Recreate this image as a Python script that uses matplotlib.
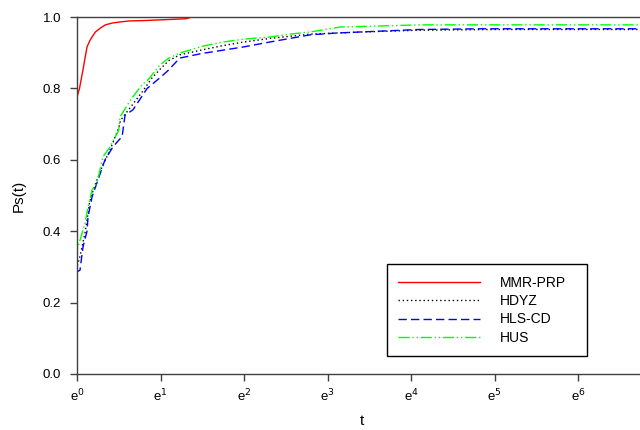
import matplotlib
matplotlib.use("Agg")
import matplotlib.pyplot as plt

plt.rcParams['font.family'] = ['Liberation Sans', 'DejaVu Sans']

# x values are ln(t); y values are Ps(t)
mmr_x = [0.0, 0.0, 0.03, 0.07, 0.10, 0.12, 0.15, 0.18, 0.22, 0.28, 0.34, 0.42, 0.51, 0.63, 0.8, 1.0, 1.2, 1.3, 1.38, 6.74]
mmr_y = [0.0, 0.776, 0.80, 0.85, 0.89, 0.916, 0.932, 0.944, 0.958, 0.969, 0.978, 0.983, 0.986, 0.989, 0.990, 0.992, 0.994, 0.995, 1.0, 1.0]

hdyz_x = [0.0, 0.0, 0.036, 0.1, 0.15, 0.2, 0.3, 0.4, 0.5, 0.52, 0.65, 0.78, 0.9, 1.0, 1.1, 1.23, 1.5, 1.75, 2.0, 2.31, 2.55, 2.8, 3.1, 3.4, 4.1, 5.0, 6.74]
hdyz_y = [0.0, 0.30, 0.33, 0.40, 0.48, 0.52, 0.58, 0.63, 0.69, 0.71, 0.75, 0.79, 0.83, 0.855, 0.878, 0.894, 0.908, 0.92, 0.93, 0.94, 0.946, 0.952, 0.955, 0.958, 0.963, 0.965, 0.965]

hls_x = [0.0, 0.0, 0.036, 0.072, 0.12, 0.132, 0.18, 0.25, 0.335, 0.43, 0.50, 0.54, 0.575, 0.67, 0.84, 0.994, 1.09, 1.23, 1.5, 1.99, 2.31, 2.55, 2.79, 3.1, 3.39, 4.1, 4.83, 6.74]
hls_y = [0.0, 0.286, 0.291, 0.356, 0.40, 0.44, 0.496, 0.543, 0.60, 0.636, 0.655, 0.665, 0.725, 0.74, 0.80, 0.83, 0.85, 0.885, 0.898, 0.916, 0.93, 0.94, 0.95, 0.955, 0.958, 0.965, 0.967, 0.967]

hus_x = [0.0, 0.0, 0.036, 0.096, 0.132, 0.18, 0.24, 0.31, 0.395, 0.50, 0.515, 0.647, 0.778, 0.85, 0.994, 1.1, 1.23, 1.5, 1.75, 2.0, 2.31, 2.55, 2.79, 3.0, 3.15, 3.5, 4.1, 6.74]
hus_y = [0.0, 0.347, 0.375, 0.423, 0.468, 0.515, 0.535, 0.608, 0.636, 0.683, 0.72, 0.77, 0.81, 0.824, 0.866, 0.885, 0.899, 0.918, 0.93, 0.938, 0.944, 0.952, 0.958, 0.966, 0.972, 0.974, 0.978, 0.978]

x_ticks = [0, 1, 2, 3, 4, 5, 6]
x_labels = [r'e$^{%d}$' % k for k in x_ticks]
y_ticks = [0.0, 0.2, 0.4, 0.6, 0.8, 1.0]

fig = plt.figure(figsize=(6.4, 4.3), dpi=100)
ax = fig.add_axes([77/640, 56/430, 563/640, 357/430])

ax.plot(mmr_x, mmr_y, color='#ff0000', lw=1.0, label='MMR-PRP')
ax.plot(hdyz_x, hdyz_y, color='#000000', lw=1.0, ls=(0, (1, 2)), label='HDYZ')
ax.plot(hls_x, hls_y, color='#0000ff', lw=1.0, ls=(0, (6, 3)), label='HLS-CD')
ax.plot(hus_x, hus_y, color='#00ff00', lw=1.0, ls=(0, (8, 2, 1, 2, 1, 2)), label='HUS')

ax.set_xlim(0, 6.74)
ax.set_ylim(0, 1.0)
ax.set_xticks(x_ticks)
ax.set_xticklabels(x_labels)
ax.set_yticks(y_ticks)
ax.set_yticklabels(['%.1f' % v for v in y_ticks])
ax.tick_params(direction='out', length=5, width=1, colors='#404040', labelcolor='black', labelsize=9.5)
ax.tick_params(axis='x', pad=5)
ax.tick_params(axis='y', pad=6.5)

for s in ['left', 'bottom', 'top']:
    ax.spines[s].set_color('#404040')
    ax.spines[s].set_linewidth(1.0)
ax.spines['right'].set_visible(False)

ax.set_xlabel('t', fontsize=11, va='center')
ax.xaxis.set_label_coords((362 - 77) / 563, (374 - 421) / 357)
ax.set_ylabel('Ps(t)', fontsize=11, va='center')
ax.yaxis.set_label_coords((19 - 77) / 563, 0.5)

leg = ax.legend(loc='lower left',
                bbox_to_anchor=((387 - 77) / 563, (374 - 356) / 357, 200 / 563, 91 / 357),
                mode='expand', borderaxespad=0.0,
                fontsize=10, handlelength=5.9, handletextpad=1.4, labelspacing=0.32,
                borderpad=0.8, fancybox=False, framealpha=1, edgecolor='black')
leg.get_frame().set_linewidth(1.0)

fig.savefig('out.png', dpi=100)
